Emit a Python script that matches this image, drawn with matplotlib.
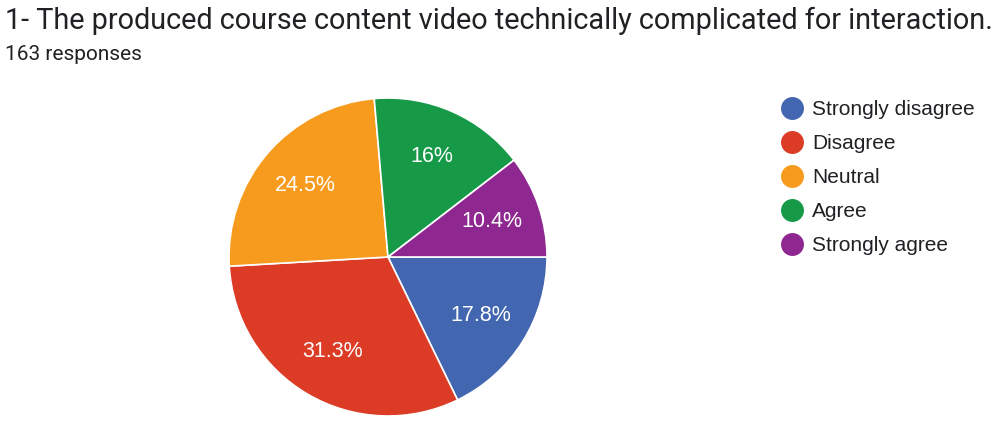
import matplotlib.pyplot as plt
from matplotlib.lines import Line2D

# survey data (163 responses)
categories = ['Strongly disagree', 'Disagree', 'Neutral', 'Agree', 'Strongly agree']
counts = [29, 51, 40, 26, 17]
colors = ['#4267B0', '#DC3B26', '#F79B1F', '#169A48', '#8E278F']
title = '1- The produced course content video technically complicated for interaction.'
subtitle = '163 responses'

W, H = 995, 421
fig = plt.figure(figsize=(W / 100, H / 100), dpi=100)

# pie axes: centre (388, 257) px, radius 159 px
cx, cy, r = 388, 257, 159
ax = fig.add_axes([(cx - r) / W, (H - cy - r) / H, 2 * r / W, 2 * r / H])


def fmt(p):
    s = '%.1f' % p
    if s.endswith('.0'):
        s = s[:-2]
    return s + '%'


wedges, texts, autotexts = ax.pie(
    counts, colors=colors, startangle=0, counterclock=False,
    autopct=fmt, pctdistance=0.69, radius=1,
    wedgeprops=dict(edgecolor='white', linewidth=1.2),
    textprops=dict(color='white', fontsize=15.5, family='Liberation Sans'))
ax.set_xlim(-1, 1)
ax.set_ylim(-1, 1)
ax.axis('off')

fig.text(5 / W, 1 - 21 / H, title, fontsize=20.8, family='Roboto',
         color='#202124', va='center', ha='left')
fig.text(5 / W, 1 - 55 / H, subtitle, fontsize=15, family='Roboto',
         color='#202124', va='center', ha='left')

handles = [Line2D([], [], marker='o', linestyle='none', markersize=15.5,
                  markerfacecolor=c, markeredgecolor=c) for c in colors]
leg = fig.legend(handles, categories, loc='upper left',
                 bbox_to_anchor=(773 / W, 1 - 91.5 / H), frameon=False,
                 prop=dict(family='Liberation Sans', size=15),
                 handlelength=1.0, handletextpad=0.48, labelspacing=0.72,
                 borderaxespad=0)
for t in leg.get_texts():
    t.set_color('#202124')

fig.savefig('out.png', dpi=100)
